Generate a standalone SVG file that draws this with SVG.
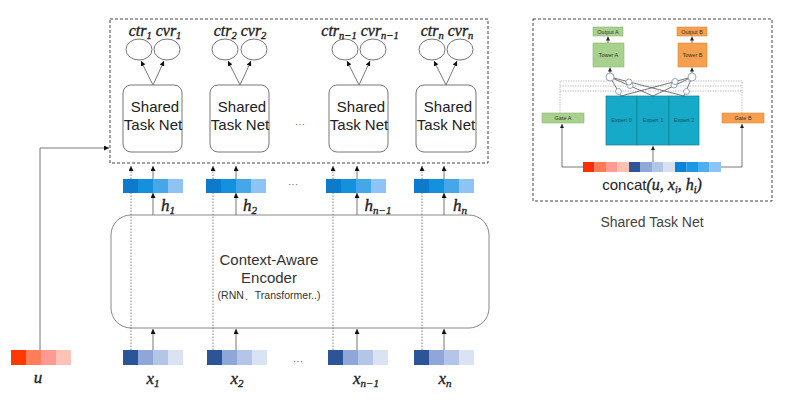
<svg xmlns="http://www.w3.org/2000/svg" width="787" height="408" viewBox="0 0 787 408">
<defs>
<marker id="ah" viewBox="0 0 10 10" refX="10" refY="5" markerUnits="userSpaceOnUse" markerWidth="5" markerHeight="5" orient="auto"><path d="M0,0 L10,5 L0,10 z" fill="#111"/></marker>
<marker id="ahs" viewBox="0 0 10 10" refX="10" refY="5" markerUnits="userSpaceOnUse" markerWidth="4" markerHeight="4" orient="auto"><path d="M0,0 L10,5 L0,10 z" fill="#222"/></marker>
</defs>
<style>
.sans{font-family:"Liberation Sans",Arial,sans-serif;}
.math{font-family:"Liberation Serif","Times New Roman",serif;font-style:italic;fill:#222;stroke:#222;stroke-width:0.35;}
.stn{fill:#fff;stroke:#777;stroke-width:1;}
.oval{fill:#fff;stroke:#777;stroke-width:1;}
.arr{stroke:#777;stroke-width:1;fill:none;marker-end:url(#ah);}
.dot{stroke:#666;stroke-width:0.8;stroke-dasharray:1.5 1.5;fill:none;marker-end:url(#ah);}
.dash{fill:none;stroke:#444;stroke-width:1;stroke-dasharray:3 2;}
.lbl{font-size:15px;fill:#222;text-anchor:middle;}
.ell{font-size:10px;fill:#666;text-anchor:middle;}
.thin{stroke:#555;stroke-width:0.8;fill:none;}
.gl{stroke:#aaa;stroke-width:0.7;stroke-dasharray:1.5 1;fill:none;}
.sm{font-size:5.5px;text-anchor:middle;}
.g{fill:#a9d18e;stroke:#8cb874;stroke-width:0.6;}
.o{fill:#f4a04f;stroke:#dd8a38;stroke-width:0.6;}
.c{fill:#fff;stroke:#8090a8;stroke-width:0.8;}
</style>
<rect width="787" height="408" fill="#fff"/>

<!-- main dashed container -->
<rect class="dash" x="110" y="19" width="378" height="144"/>

<!-- Shared Task Net nodes -->
<g id="stn1">
<rect class="stn" x="123" y="85" width="59" height="67" rx="8"/>
<ellipse class="oval" cx="139" cy="49.5" rx="13" ry="10.5"/>
<ellipse class="oval" cx="167" cy="49.5" rx="13" ry="10.5"/>
<text class="sans lbl" x="155" y="112">Shared</text><text class="sans lbl" x="153" y="130">Task Net</text>
<text class="math" x="155" y="36" font-size="16" text-anchor="middle">ctr<tspan font-size="10.5" dy="3">1</tspan><tspan dy="-3"> cvr</tspan><tspan font-size="10.5" dy="3">1</tspan></text>
</g>
<g id="stn2">
<rect class="stn" x="210" y="85" width="59" height="67" rx="8"/>
<ellipse class="oval" cx="225" cy="49.5" rx="13" ry="10.5"/>
<ellipse class="oval" cx="254" cy="49.5" rx="13" ry="10.5"/>
<text class="sans lbl" x="242" y="112">Shared</text><text class="sans lbl" x="240" y="130">Task Net</text>
<text class="math" x="240" y="36" font-size="16" text-anchor="middle">ctr<tspan font-size="10.5" dy="3">2</tspan><tspan dy="-3"> cvr</tspan><tspan font-size="10.5" dy="3">2</tspan></text>
</g>
<g id="stn3">
<rect class="stn" x="329" y="85" width="59" height="67" rx="8"/>
<ellipse class="oval" cx="345" cy="49.5" rx="13" ry="10.5"/>
<ellipse class="oval" cx="373" cy="49.5" rx="13" ry="10.5"/>
<text class="sans lbl" x="361" y="112">Shared</text><text class="sans lbl" x="359" y="130">Task Net</text>
<text class="math" x="360" y="36" font-size="16" text-anchor="middle">ctr<tspan font-size="10.5" dy="3">n−1</tspan><tspan dy="-3"> cvr</tspan><tspan font-size="10.5" dy="3">n−1</tspan></text>
</g>
<g id="stn4">
<rect class="stn" x="416" y="85" width="60" height="67" rx="8"/>
<ellipse class="oval" cx="432" cy="49.5" rx="13" ry="10.5"/>
<ellipse class="oval" cx="460" cy="49.5" rx="13" ry="10.5"/>
<text class="sans lbl" x="448" y="112">Shared</text><text class="sans lbl" x="446" y="130">Task Net</text>
<text class="math" x="447" y="36" font-size="16" text-anchor="middle">ctr<tspan font-size="10.5" dy="3">n</tspan><tspan dy="-3"> cvr</tspan><tspan font-size="10.5" dy="3">n</tspan></text>
</g>
<text class="sans ell" x="300" y="128">···</text>

<!-- encoder -->
<g id="encoder">
<rect x="111" y="215" width="378" height="113" rx="20" fill="none" stroke="#888" stroke-width="1"/>
<text class="sans" x="269" y="265" font-size="15" fill="#333" text-anchor="middle">Context-Aware</text>
<text class="sans" x="269" y="283" font-size="15" fill="#333" text-anchor="middle">Encoder</text>
<text class="sans" x="269" y="299" font-size="10.5" fill="#333" text-anchor="middle">(RNN、Transformer..)</text>
</g>

<!-- h vectors -->
<g id="h1"><rect x="123" y="179" width="15" height="14" fill="#0a7ccf"/><rect x="138" y="179" width="15" height="14" fill="#1590dc"/><rect x="153" y="179" width="15" height="14" fill="#45a6e8"/><rect x="168" y="179" width="15" height="14" fill="#8ec3f4"/></g>
<g id="h2"><rect x="206" y="179" width="15" height="14" fill="#0a7ccf"/><rect x="221" y="179" width="15" height="14" fill="#1590dc"/><rect x="236" y="179" width="15" height="14" fill="#45a6e8"/><rect x="251" y="179" width="15" height="14" fill="#8ec3f4"/></g>
<g id="h3"><rect x="326" y="179" width="15" height="14" fill="#0a7ccf"/><rect x="341" y="179" width="15" height="14" fill="#1590dc"/><rect x="356" y="179" width="15" height="14" fill="#45a6e8"/><rect x="371" y="179" width="15" height="14" fill="#8ec3f4"/></g>
<g id="h4"><rect x="414" y="179" width="15" height="14" fill="#0a7ccf"/><rect x="429" y="179" width="15" height="14" fill="#1590dc"/><rect x="444" y="179" width="15" height="14" fill="#45a6e8"/><rect x="459" y="179" width="15" height="14" fill="#8ec3f4"/></g>
<text class="sans ell" x="293" y="188">···</text>
<text class="math" x="168" y="211" font-size="17" text-anchor="middle">h<tspan font-size="11" dy="3">1</tspan></text>
<text class="math" x="250" y="211" font-size="17" text-anchor="middle">h<tspan font-size="11" dy="3">2</tspan></text>
<text class="math" x="378" y="211" font-size="17" text-anchor="middle">h<tspan font-size="11" dy="3">n−1</tspan></text>
<text class="math" x="460" y="211" font-size="17" text-anchor="middle">h<tspan font-size="11" dy="3">n</tspan></text>

<!-- x vectors -->
<g id="x1"><rect x="123" y="350" width="15" height="15" fill="#2b5597"/><rect x="138" y="350" width="15" height="15" fill="#8ea7d8"/><rect x="153" y="350" width="15" height="15" fill="#b4c6e7"/><rect x="168" y="350" width="15" height="15" fill="#dae3f3"/></g>
<g id="x2"><rect x="207" y="350" width="15" height="15" fill="#2b5597"/><rect x="222" y="350" width="15" height="15" fill="#8ea7d8"/><rect x="237" y="350" width="15" height="15" fill="#b4c6e7"/><rect x="252" y="350" width="15" height="15" fill="#dae3f3"/></g>
<g id="x3"><rect x="328" y="350" width="15" height="15" fill="#2b5597"/><rect x="343" y="350" width="15" height="15" fill="#8ea7d8"/><rect x="358" y="350" width="15" height="15" fill="#b4c6e7"/><rect x="373" y="350" width="15" height="15" fill="#dae3f3"/></g>
<g id="x4"><rect x="414" y="350" width="15" height="15" fill="#2b5597"/><rect x="429" y="350" width="15" height="15" fill="#8ea7d8"/><rect x="444" y="350" width="15" height="15" fill="#b4c6e7"/><rect x="459" y="350" width="15" height="15" fill="#dae3f3"/></g>
<text class="sans ell" x="298" y="365">···</text>
<text class="math" x="153" y="384" font-size="17" text-anchor="middle">x<tspan font-size="11" dy="3">1</tspan></text>
<text class="math" x="237" y="384" font-size="17" text-anchor="middle">x<tspan font-size="11" dy="3">2</tspan></text>
<text class="math" x="366" y="384" font-size="17" text-anchor="middle">x<tspan font-size="11" dy="3">n−1</tspan></text>
<text class="math" x="445" y="384" font-size="17" text-anchor="middle">x<tspan font-size="11" dy="3">n</tspan></text>

<!-- u vector -->
<g id="u"><rect x="11" y="350" width="15" height="15" fill="#fe3a00"/><rect x="26" y="350" width="15" height="15" fill="#ff7d58"/><rect x="41" y="350" width="15" height="15" fill="#ff9a92"/><rect x="56" y="350" width="15" height="15" fill="#ffc2b6"/></g>
<text class="math" x="38" y="383" font-size="17" text-anchor="middle">u</text>

<!-- connectors -->
<g id="connectors">
<path class="arr" d="M40,350 V148 H109" stroke="#999"/>
<path class="arr" d="M153,85 L141,61"/><path class="arr" d="M153,85 L164,61"/>
<path class="arr" d="M240,85 L228,61"/><path class="arr" d="M240,85 L251,61"/>
<path class="arr" d="M359,85 L347,61"/><path class="arr" d="M359,85 L370,61"/>
<path class="arr" d="M446,85 L434,61"/><path class="arr" d="M446,85 L457,61"/>
<path class="arr" d="M153,350 V329"/><path class="arr" d="M236,350 V329"/><path class="arr" d="M357,350 V329"/><path class="arr" d="M444,350 V329"/>
<path class="arr" d="M153,215 V193"/><path class="arr" d="M236,215 V193"/><path class="arr" d="M357,215 V193"/><path class="arr" d="M444,215 V193"/>
<path class="arr" d="M153,179 V166"/><path class="arr" d="M236,179 V166"/><path class="arr" d="M357,179 V166"/><path class="arr" d="M444,179 V166"/>
<path class="dot" d="M131,350 V166"/><path class="dot" d="M213,350 V166"/><path class="dot" d="M333,350 V166"/><path class="dot" d="M422,350 V166"/>
</g>

<!-- right panel: Shared Task Net detail -->
<rect class="dash" x="533" y="19" width="239" height="182"/>
<g id="mmoe-gatelines">
<path class="gl" d="M560,113 V81 H742 V113"/>
<path class="gl" d="M560,86 H742"/>
<path class="gl" d="M560,91 H742"/>
</g>
<g id="outputA"><rect class="g" x="593" y="27" width="30" height="9"/><text class="sans sm" x="608" y="33.5" fill="#333">Output A</text></g>
<g id="towerA"><rect class="g" x="593" y="43" width="31" height="24"/><text class="sans sm" x="608.5" y="57" fill="#333">Tower A</text></g>
<g id="outputB"><rect class="o" x="677" y="27" width="30" height="9"/><text class="sans sm" x="692" y="33.5" fill="#333">Output B</text></g>
<g id="towerB"><rect class="o" x="678" y="43" width="29" height="24"/><text class="sans sm" x="692.5" y="57" fill="#333">Tower B</text></g>
<g id="experts">
<rect x="606" y="96" width="31" height="49" fill="#17a9c8" stroke="#0f7f99" stroke-width="0.7"/>
<rect x="637" y="96" width="32" height="49" fill="#17a9c8" stroke="#0f7f99" stroke-width="0.7"/>
<rect x="669" y="96" width="30" height="49" fill="#17a9c8" stroke="#0f7f99" stroke-width="0.7"/>
<text class="sans sm" x="621.5" y="122" fill="#0b4a63">Expert 0</text>
<text class="sans sm" x="653" y="122" fill="#0b4a63">Expert 1</text>
<text class="sans sm" x="684" y="122" fill="#0b4a63">Expert 2</text>
</g>
<g id="gateA"><rect class="g" x="542" y="113" width="42" height="10"/><text class="sans sm" x="563" y="120" fill="#333">Gate A</text></g>
<g id="gateB"><rect class="o" x="722" y="113" width="42" height="10"/><text class="sans sm" x="743" y="120" fill="#333">Gate B</text></g>
<g id="concat">
<rect x="583" y="162" width="11.5" height="10" fill="#fe2e00"/><rect x="594.5" y="162" width="11.5" height="10" fill="#ff7b57"/><rect x="606" y="162" width="11.5" height="10" fill="#ff9b93"/><rect x="617.5" y="162" width="11.5" height="10" fill="#ffc0b3"/>
<rect x="629" y="162" width="11.5" height="10" fill="#2e5597"/><rect x="640.5" y="162" width="11.5" height="10" fill="#8fa8d8"/><rect x="652" y="162" width="11.5" height="10" fill="#b3c5e6"/><rect x="663.5" y="162" width="11.5" height="10" fill="#d6e0f1"/>
<rect x="675" y="162" width="11.5" height="10" fill="#0a84d8"/><rect x="686.5" y="162" width="11.5" height="10" fill="#1c97e4"/><rect x="698" y="162" width="11.5" height="10" fill="#4faeec"/><rect x="709.5" y="162" width="11.5" height="10" fill="#8dc4f6"/>
<text x="652" y="190" font-size="15" fill="#222" text-anchor="middle"><tspan class="sans">concat</tspan><tspan class="math" font-size="16">(u, x<tspan font-size="10" dy="3">i</tspan><tspan dy="-3">, h</tspan><tspan font-size="10" dy="3">i</tspan><tspan dy="-3">)</tspan></tspan></text>
</g>
<text class="sans" x="652" y="227" font-size="14" fill="#444" text-anchor="middle">Shared Task Net</text>
<g id="mmoe-connectors">
<path class="thin" d="M583,167 H562 V124" marker-end="url(#ahs)"/>
<path class="thin" d="M721,167 H742 V124" marker-end="url(#ahs)"/>
<path class="thin" d="M653,162 V146" marker-end="url(#ahs)"/>
<path class="thin" d="M608,43 V36.5" marker-end="url(#ahs)"/>
<path class="thin" d="M692,43 V36.5" marker-end="url(#ahs)"/>
<path class="thin" d="M610,73 V67.5" marker-end="url(#ahs)"/>
<path class="thin" d="M692,73 V67.5" marker-end="url(#ahs)"/>
<path class="thin" d="M610,77 L621,96 M610,77 L653,96 M610,77 L684,96"/>
<path class="thin" d="M692,77 L684,96 M692,77 L653,96 M692,77 L621,96"/>
<circle class="c" cx="610" cy="77" r="4"/>
<circle class="c" cx="692" cy="77" r="4"/>
<circle class="c" cx="618.5" cy="91.5" r="3"/>
<circle class="c" cx="630" cy="85.5" r="3"/>
<circle class="c" cx="629" cy="82" r="3"/>
<circle class="c" cx="686.5" cy="91.5" r="3"/>
<circle class="c" cx="674" cy="85" r="3"/>
<circle class="c" cx="675" cy="81.5" r="3"/>
</g>
</svg>
